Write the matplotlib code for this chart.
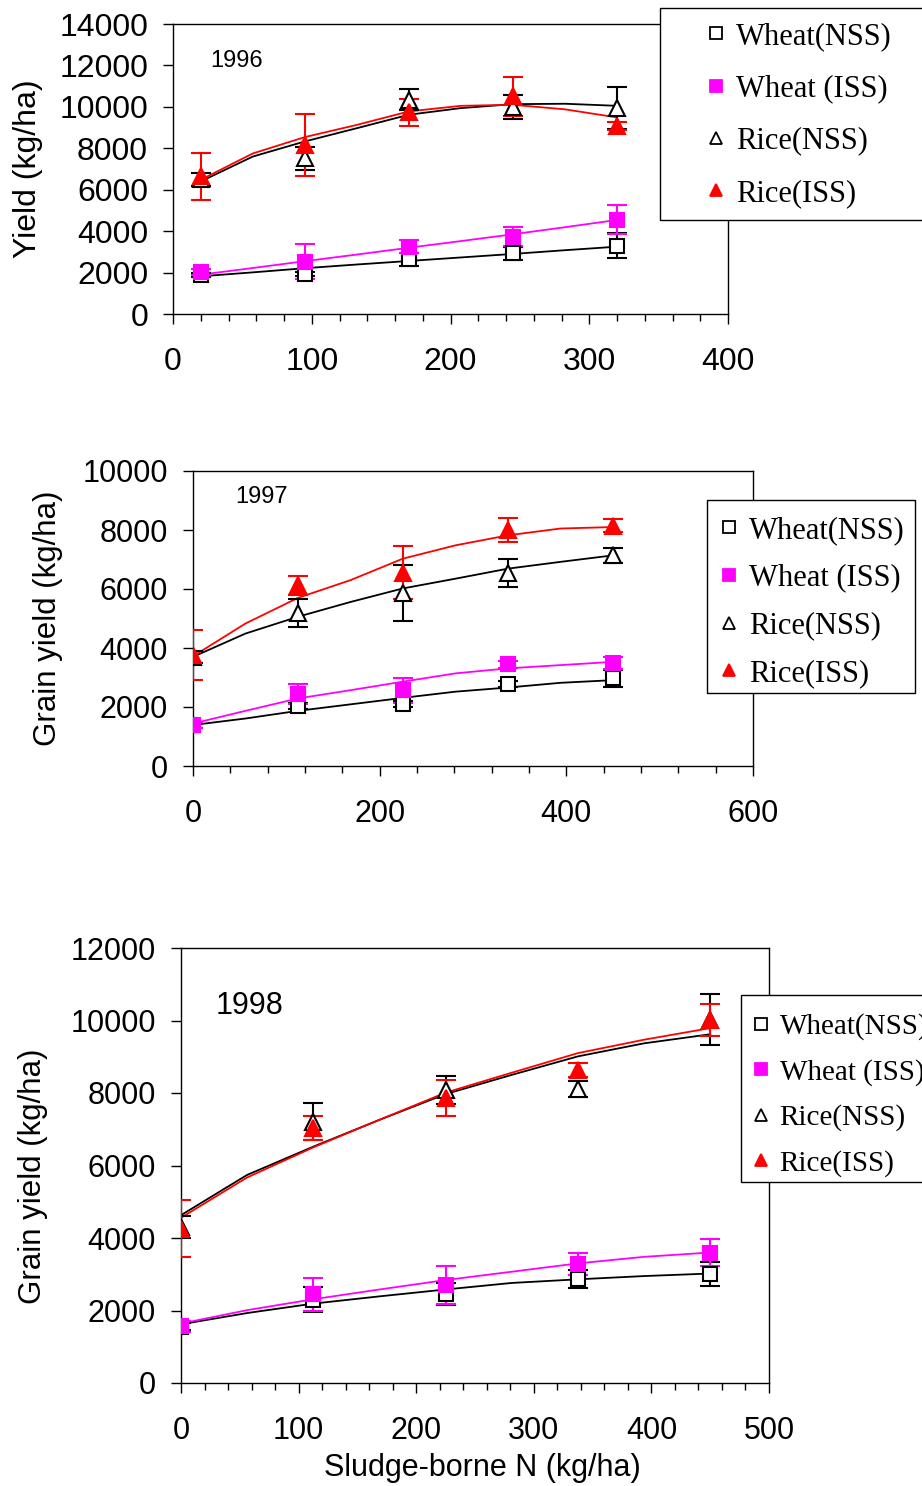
import matplotlib
matplotlib.use("Agg")
import matplotlib.pyplot as plt
from matplotlib.lines import Line2D
from matplotlib.patches import Rectangle
from matplotlib.ticker import MultipleLocator

# ---- 1996 ----
x96 = [20, 95, 170, 245, 320]
wheat_nss_96 = [1900, 1930, 2640, 2930, 3290]
wheat_nss_96_err = [100, 100, 300, 300, 600]
wheat_iss_96 = [2010, 2530, 3250, 3740, 4540]
wheat_iss_96_err = [150, 850, 300, 450, 700]
rice_nss_96 = [6500, 7520, 10340, 9990, 9940]
rice_nss_96_err = [300, 550, 500, 600, 1000]
rice_iss_96 = [6640, 8170, 9730, 10500, 9090]
rice_iss_96_err = [1150, 1500, 650, 950, 200]
# fitted curves
xfit96 = [20, 57.5, 95, 132.5, 170, 207.5, 245, 282.5, 320]
wheat_nss_fit_96 = [1820, 2010, 2210, 2390, 2560, 2730, 2900, 3080, 3250]
wheat_iss_fit_96 = [1900, 2220, 2550, 2870, 3200, 3520, 3850, 4190, 4540]
rice_nss_fit_96 = [6400, 7600, 8330, 8970, 9620, 9940, 10130, 10150, 10050]
rice_iss_fit_96 = [6480, 7750, 8540, 9130, 9780, 10050, 10100, 9880, 9490]

# ---- 1997 ----
x97 = [0, 112.5, 225, 337.5, 450]
wheat_nss_97 = [1390, 2040, 2090, 2780, 2970]
wheat_nss_97_err = [100, 100, 100, 100, 300]
wheat_iss_97 = [1400, 2430, 2570, 3450, 3500]
wheat_iss_97_err = [100, 340, 420, 120, 200]
rice_nss_97 = [3700, 5190, 5870, 6550, 7140]
rice_nss_97_err = [200, 480, 940, 470, 260]
rice_iss_97 = [3760, 6130, 6550, 7990, 8140]
rice_iss_97_err = [850, 320, 900, 400, 220]
xfit97 = [0, 56.25, 112.5, 168.75, 225, 281.25, 337.5, 393.75, 450]
wheat_nss_fit_97 = [1390, 1610, 1870, 2090, 2310, 2520, 2660, 2820, 2910]
wheat_iss_fit_97 = [1440, 1870, 2290, 2570, 2860, 3140, 3310, 3420, 3530]
rice_nss_fit_97 = [3700, 4490, 5060, 5560, 6020, 6350, 6690, 6920, 7140]
rice_iss_fit_97 = [3720, 4830, 5700, 6300, 7030, 7480, 7820, 8050, 8100]

# ---- 1998 ----
x98 = [0, 112.5, 225, 337.5, 450]
wheat_nss_98 = [1550, 2300, 2450, 2880, 3000]
wheat_nss_98_err = [100, 350, 300, 250, 330]
wheat_iss_98 = [1570, 2450, 2700, 3280, 3600]
wheat_iss_98_err = [150, 450, 520, 310, 380]
rice_nss_98 = [4300, 7210, 8080, 8110, 10020]
rice_nss_98_err = [300, 520, 380, 230, 700]
rice_iss_98 = [4260, 7030, 7860, 8640, 10020]
rice_iss_98_err = [780, 340, 500, 190, 440]
xfit98 = [0, 56.25, 112.5, 168.75, 225, 281.25, 337.5, 393.75, 450]
wheat_nss_fit_98 = [1620, 1930, 2190, 2390, 2580, 2760, 2860, 2950, 3020]
wheat_iss_fit_98 = [1640, 2010, 2310, 2580, 2840, 3070, 3300, 3480, 3600]
rice_nss_fit_98 = [4630, 5740, 6520, 7260, 7970, 8500, 9010, 9370, 9620]
rice_iss_fit_98 = [4560, 5670, 6500, 7260, 8010, 8560, 9100, 9470, 9790]

labels = ["Wheat(NSS)", "Wheat (ISS)", "Rice(NSS)", "Rice(ISS)"]
years = ["1996", "1997", "1998"]

SANS = "Liberation Sans"
SERIF = "Liberation Serif"
W, H = 922, 1486

# marker styles: (marker, facecolor, edgecolor, size, line/err colour)
styles = [
    ("s", "white", "black", 10, "black"),
    ("s", "magenta", "magenta", 10.5, "magenta"),
    ("^", "white", "black", 11, "black"),
    ("^", "red", "red", 11, "red"),
]


def fig_rect(x0, y0, x1, y1):
    # pixel box -> figure fraction [left, bottom, width, height]
    return [x0 / W, 1 - y1 / H, (x1 - x0) / W, (y1 - y0) / H]


def draw_panel(ax, x, ys, errs, xfit, fits):
    for (mk, fc, ec, ms, col), y, e, f in zip(styles, ys, errs, fits):
        ax.plot(xfit, f, color=col, lw=1.3, zorder=2)
        ax.errorbar(x, y, yerr=e, fmt="none", ecolor=col, elinewidth=1.5,
                    capsize=7, capthick=1.5, zorder=3)
        ax.plot(x, y, ls="none", marker=mk, mfc=fc, mec=ec, ms=ms,
                mew=1.5, zorder=4)
    for s in ax.spines.values():
        s.set_linewidth(1.0)
    ax.tick_params(axis="both", which="major", direction="out", length=7,
                   width=1, labelsize=22)
    ax.tick_params(axis="x", which="major", pad=17)
    ax.tick_params(axis="x", which="minor", direction="out", length=5, width=1)
    ax.tick_params(axis="y", pad=11)


def add_legend(fig, box, anchor, fs, spacing):
    x0, y0, x1, y1 = box
    fig.add_artist(Rectangle((x0 / W, 1 - y1 / H), (x1 - x0) / W, (y1 - y0) / H,
                             transform=fig.transFigure, facecolor="white",
                             edgecolor="black", lw=1.0, zorder=5))
    handles = [Line2D([], [], ls="none", marker=mk, mfc=fc, mec=ec,
                      ms=ms * 0.8, mew=1.3)
               for mk, fc, ec, ms, col in styles]
    leg = fig.legend(handles, labels, loc="center left",
                     bbox_to_anchor=(anchor[0] / W, 1 - anchor[1] / H),
                     frameon=False, prop={"family": SERIF, "size": fs},
                     handlelength=1.0, handletextpad=0.15, labelspacing=spacing,
                     borderpad=0, borderaxespad=0, numpoints=1)
    leg.set_zorder(6)


fig = plt.figure(figsize=(W / 100, H / 100), dpi=100)

# panel 1996
ax1 = fig.add_axes(fig_rect(173, 24, 728, 314))
draw_panel(ax1, x96,
           [wheat_nss_96, wheat_iss_96, rice_nss_96, rice_iss_96],
           [wheat_nss_96_err, wheat_iss_96_err, rice_nss_96_err, rice_iss_96_err],
           xfit96,
           [wheat_nss_fit_96, wheat_iss_fit_96, rice_nss_fit_96, rice_iss_fit_96])
ax1.set_xlim(0, 400)
ax1.set_ylim(0, 14000)
ax1.xaxis.set_major_locator(MultipleLocator(100))
ax1.xaxis.set_minor_locator(MultipleLocator(20))
ax1.yaxis.set_major_locator(MultipleLocator(2000))
ax1.tick_params(labelsize=23)
ax1.set_ylabel("Yield (kg/ha)", fontsize=23, family=SANS)
ax1.yaxis.set_label_coords(-0.234, 0.5)
ax1.text(46, 12200, years[0], fontsize=17, family=SANS, ha="center", va="center")

# panel 1997
ax2 = fig.add_axes(fig_rect(193, 471, 753, 766))
draw_panel(ax2, x97,
           [wheat_nss_97, wheat_iss_97, rice_nss_97, rice_iss_97],
           [wheat_nss_97_err, wheat_iss_97_err, rice_nss_97_err, rice_iss_97_err],
           xfit97,
           [wheat_nss_fit_97, wheat_iss_fit_97, rice_nss_fit_97, rice_iss_fit_97])
ax2.set_xlim(0, 600)
ax2.set_ylim(0, 10000)
ax2.xaxis.set_major_locator(MultipleLocator(200))
ax2.xaxis.set_minor_locator(MultipleLocator(40))
ax2.yaxis.set_major_locator(MultipleLocator(2000))
ax2.set_ylabel("Grain yield (kg/ha)", fontsize=22.5, family=SANS)
ax2.yaxis.set_label_coords(-0.232, 0.5)
ax2.text(73, 9110, years[1], fontsize=17, family=SANS, ha="center", va="center")

# panel 1998
ax3 = fig.add_axes(fig_rect(181, 948, 769, 1383))
draw_panel(ax3, x98,
           [wheat_nss_98, wheat_iss_98, rice_nss_98, rice_iss_98],
           [wheat_nss_98_err, wheat_iss_98_err, rice_nss_98_err, rice_iss_98_err],
           xfit98,
           [wheat_nss_fit_98, wheat_iss_fit_98, rice_nss_fit_98, rice_iss_fit_98])
ax3.set_xlim(0, 500)
ax3.set_ylim(0, 12000)
ax3.xaxis.set_major_locator(MultipleLocator(100))
ax3.xaxis.set_minor_locator(MultipleLocator(20))
ax3.yaxis.set_major_locator(MultipleLocator(2000))
ax3.set_ylabel("Grain yield (kg/ha)", fontsize=22.5, family=SANS)
ax3.yaxis.set_label_coords(-0.226, 0.476)
ax3.set_xlabel("Sludge-borne N (kg/ha)", fontsize=22, family=SANS)
ax3.xaxis.set_label_coords(0.512, -0.16)
ax3.text(58, 10400, years[2], fontsize=22, family=SANS, ha="center", va="center")

for ax in (ax1, ax2, ax3):
    for t in ax.get_xticklabels() + ax.get_yticklabels():
        t.set_fontfamily(SANS)

add_legend(fig, (660, 8, 940, 220), (700.7, 115), 22, 0.76)
add_legend(fig, (707, 500, 915, 693), (713.7, 602), 22, 0.61)
add_legend(fig, (741, 995, 945, 1182), (746, 1095), 21, 0.64)

fig.savefig("out.png", dpi=100)
